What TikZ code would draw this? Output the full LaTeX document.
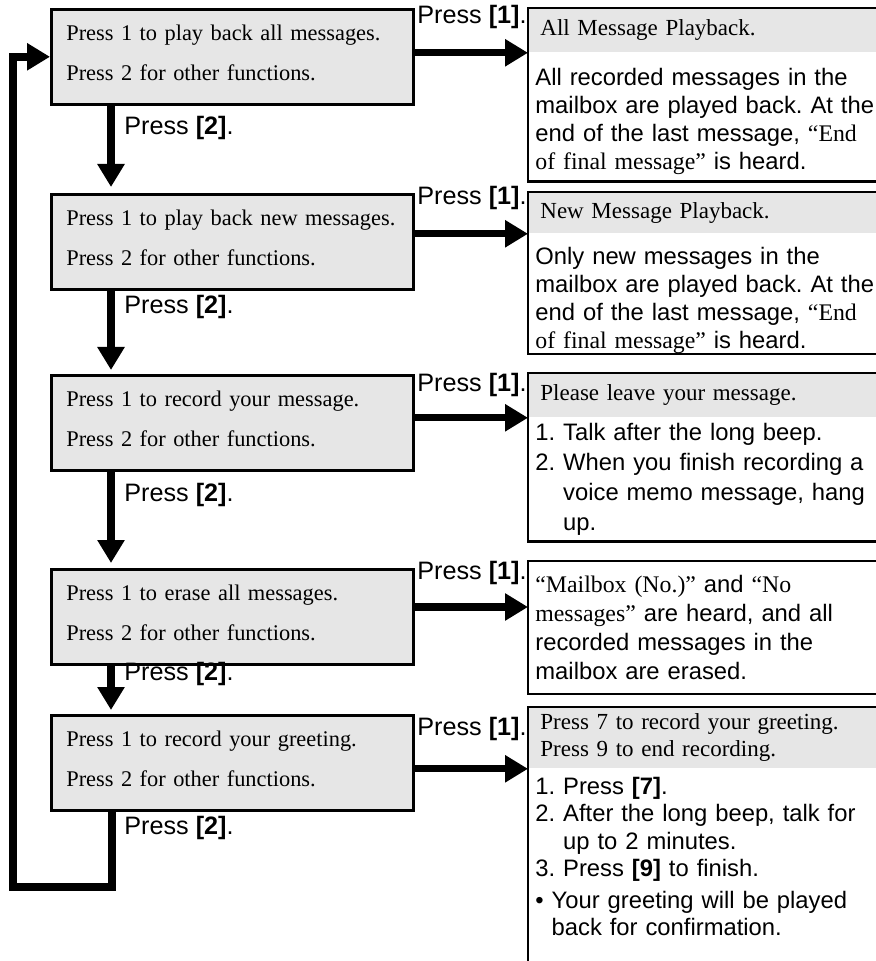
\documentclass[tikz,border=0pt]{standalone}
\usepackage{fontspec}
\setmainfont{Liberation Serif}
\setsansfont{Liberation Sans}
\usepackage{tikz}
\usetikzlibrary{
  arrows.meta,
  calc,
  fit,
  positioning
}
\definecolor{menugray}{RGB}{230,230,230}
\definecolor{inkblack}{RGB}{0,0,0}
\newcommand{\voice}[1]{{\rmfamily #1}}
\tikzset{
  menu/.style={draw=inkblack,line width=1.3pt,fill=menugray,anchor=north west,
    align=left,text width=166pt,inner xsep=7.5pt,inner ysep=7.5pt,
    text height=8pt,text depth=24.5pt,font=\fontsize{11.2}{20}\selectfont},
  head/.style={fill=menugray,anchor=north west,align=left,text width=185pt,
    inner xsep=6pt,inner ysep=0pt,font=\fontsize{11.5}{13.5}\selectfont},
  body/.style={anchor=north west,align=left,text width=185pt,inner xsep=3.5pt,
    inner ysep=0pt,font=\sffamily\fontsize{11.9}{14}\selectfont},
  frame/.style={draw=inkblack,line width=1.2pt,inner sep=0pt},
  press/.style={anchor=west,inner sep=0pt,
    font=\sffamily\fontsize{12.6}{14}\selectfont},
  flow/.style={-{Triangle[length=11.5pt,width=13pt]},line width=3.6pt,
    draw=inkblack},
  loopflow/.style={flow,line width=4pt}
}

\begin{document}
\frenchspacing
\begin{tikzpicture}[x=0.5pt,y=-0.5pt]
  \useasboundingbox (0,0) rectangle (875,961);
  \node[menu] (m1) at (50,8) {Press 1 to play back all messages.\\Press 2 for other functions.};
  \node[menu] (m2) at (50,193) {Press 1 to play back new messages.\\Press 2 for other functions.};
  \node[menu] (m3) at (50,374) {Press 1 to record your message.\\Press 2 for other functions.};
  \node[menu] (m4) at (50,568) {Press 1 to erase all messages.\\Press 2 for other functions.};
  \node[menu] (m5) at (50,714) {Press 1 to record your greeting.\\Press 2 for other functions.};

  \node[head,minimum height=22pt] (h1) at (528,8) {All Message Playback.};
  \node[body,minimum height=64pt,text height=13pt] (b1) at (h1.south west)
    {All recorded messages in the\\mailbox are played back. At the\\end of the last message, \voice{“End}\\\voice{of final message”} is heard.};
  \node[frame,fit=(h1)(b1)] (r1) {};

  \node[head,minimum height=20.5pt] (h2) at (528,192) {New Message Playback.};
  \node[body,minimum height=59.5pt,text height=15pt] (b2) at (h2.south west)
    {Only new messages in the\\mailbox are played back. At the\\end of the last message, \voice{“End}\\\voice{of final message”} is heard.};
  \node[frame,fit=(h2)(b2)] (r2) {};

  \node[head,minimum height=22pt] (h3) at (528,373) {Please leave your message.};
  \node[body,minimum height=61.5pt,font=\sffamily\fontsize{11.9}{15}\selectfont] (b3) at (h3.south west)
    {1. Talk after the long beep.\\2. When you finish recording a\\\hphantom{2. }voice memo message, hang\\\hphantom{2. }up.};
  \node[frame,fit=(h3)(b3)] (r3) {};

  \node[body,minimum height=66pt,font=\sffamily\fontsize{11.9}{14.5}\selectfont] (b4) at (528,561)
    {\voice{“Mailbox (No.)”} and \voice{“No}\\\voice{messages”} are heard, and all\\recorded messages in the\\mailbox are erased.};
  \node[frame,fit=(b4)] (r4) {};

  \node[head,minimum height=30.5pt] (h5) at (528,707) {Press 7 to record your greeting.\\Press 9 to end recording.};
  \node[body,inner ysep=4pt,font=\sffamily\fontsize{11.9}{13.7}\selectfont] (b5) at (h5.south west)
    {1. Press \textbf{[7]}.\\2. After the long beep, talk for\\\hphantom{2. }up to 2 minutes.\\3. Press \textbf{[9]} to finish.\\[2pt]• Your greeting will be played\\\hphantom{• }back for confirmation.};
  \coordinate (c5) at (528,990);
  \node[frame,fit=(h5)(b5)(c5)] (r5) {};

  \node[press] (p1a) at (417,17) {Press \textbf{[1]}.};
  \node[press] (p1b) at (417,198) {Press \textbf{[1]}.};
  \node[press] (p1c) at (417,385) {Press \textbf{[1]}.};
  \node[press] (p1d) at (417,573) {Press \textbf{[1]}.};
  \node[press] (p1e) at (417,729) {Press \textbf{[1]}.};
  \node[press] (p2a) at (124,128) {Press \textbf{[2]}.};
  \node[press] (p2b) at (124,307) {Press \textbf{[2]}.};
  \node[press] (p2c) at (124,495) {Press \textbf{[2]}.};
  \node[press] (p2d) at (124,674) {Press \textbf{[2]}.};
  \node[press] (p2e) at (124,828) {Press \textbf{[2]}.};

  \coordinate (t4) at (528,607);
  \draw[flow] (m1.east |- h1.south) -- (h1.south west);
  \draw[flow] (m2.east |- h2.south) -- (h2.south west);
  \draw[flow] (m3.east |- h3.south) -- (h3.south west);
  \draw[flow] (m4.east |- t4) -- (t4);
  \draw[flow] (m5.east |- h5.south) -- (h5.south west);

  \draw[flow,shorten >=3pt] ([xshift=30.5pt]m1.south west) -- ([xshift=30.5pt]m2.north west);
  \draw[flow,shorten >=2pt] ([xshift=30.5pt]m2.south west) -- ([xshift=30.5pt]m3.north west);
  \draw[flow,shorten >=2.5pt] ([xshift=30.5pt]m3.south west) -- ([xshift=30.5pt]m4.north west);
  \draw[flow,shorten >=2pt] ([xshift=30.5pt]m4.south west) -- ([xshift=30.5pt]m5.north west);

  \coordinate (back) at (13,887);
  \draw[loopflow] ([xshift=31pt]m5.south west) |- (back) |- (m1.west);
\end{tikzpicture}
\end{document}
